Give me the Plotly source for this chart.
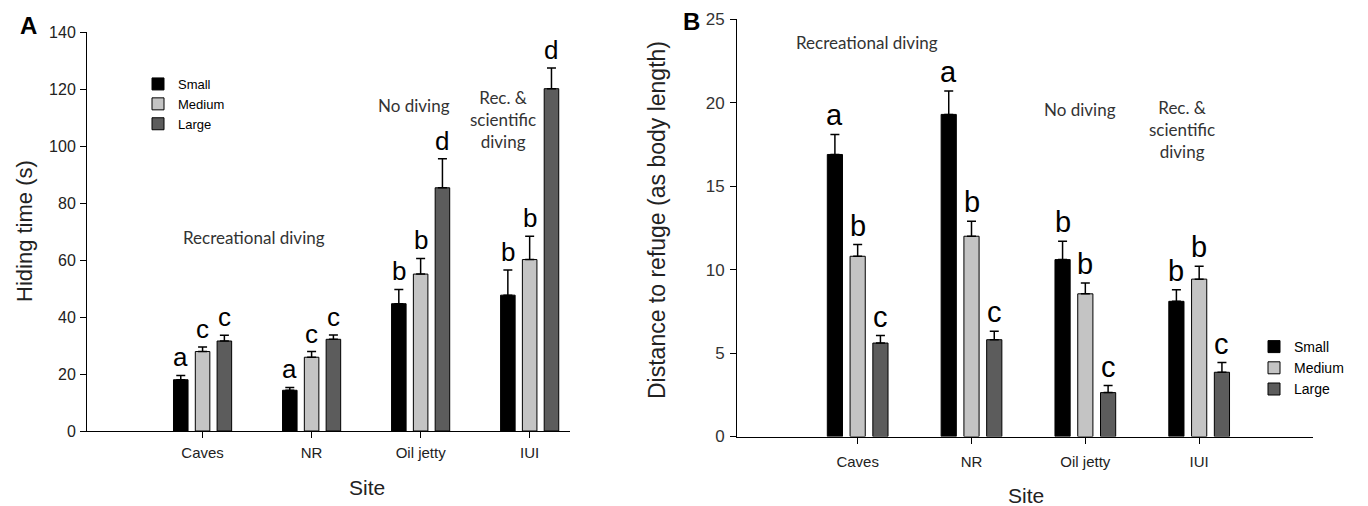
import plotly.graph_objects as go

# ---------------- data ----------------
sites = ["Caves", "NR", "Oil jetty", "IUI"]
size_classes = ["Small", "Medium", "Large"]

# Panel A: hiding time (s)
hide_small = [18.0, 14.3, 44.7, 47.7]
hide_small_err = [1.5, 1.0, 5.0, 8.8]
hide_medium = [27.9, 25.9, 55.1, 60.2]
hide_medium_err = [1.6, 2.0, 5.5, 8.2]
hide_large = [31.6, 32.2, 85.4, 120.2]
hide_large_err = [2.0, 1.5, 10.2, 7.3]
hide_letters_small = ["a", "a", "b", "b"]
hide_letters_medium = ["c", "c", "b", "b"]
hide_letters_large = ["c", "c", "d", "d"]

# Panel B: distance to refuge (body lengths)
dist_small = [16.9, 19.3, 10.6, 8.1]
dist_small_err = [1.2, 1.4, 1.1, 0.7]
dist_medium = [10.8, 12.0, 8.55, 9.43]
dist_medium_err = [0.7, 0.9, 0.65, 0.77]
dist_large = [5.6, 5.8, 2.63, 3.85]
dist_large_err = [0.45, 0.5, 0.42, 0.58]
dist_letters_small = ["a", "a", "b", "b"]
dist_letters_medium = ["b", "b", "b", "b"]
dist_letters_large = ["c", "c", "c", "c"]

colors = ["#000000", "#c4c4c4", "#5c5c5c"]

W, H = 1368, 506
BARGAP = 0.4
BARGROUPGAP = 0.333
slot = (1 - BARGAP) / 3  # group offset between adjacent bars in category units

fig = go.Figure()

panelA = [(hide_small, hide_small_err, hide_letters_small),
          (hide_medium, hide_medium_err, hide_letters_medium),
          (hide_large, hide_large_err, hide_letters_large)]
panelB = [(dist_small, dist_small_err, dist_letters_small),
          (dist_medium, dist_medium_err, dist_letters_medium),
          (dist_large, dist_large_err, dist_letters_large)]

annotations = []

for panel, xa, ya, leg, lfs in [(panelA, "x", "y", "legend", 26), (panelB, "x2", "y2", "legend2", 29)]:
    for k, (vals, errs, letters) in enumerate(panel):
        fig.add_trace(go.Bar(
            x=sites, y=vals, name=size_classes[k],
            marker=dict(color=colors[k], line=dict(color="#000000", width=1)),
            error_y=dict(type="data", array=errs, arrayminus=[0] * len(errs), symmetric=False,
                         color="#000000", thickness=1.5, width=4.5),
            xaxis=xa, yaxis=ya, legend=leg, offsetgroup=str(k), hoverinfo="skip",
        ))
        for i, (v, e, lt) in enumerate(zip(vals, errs, letters)):
            annotations.append(dict(
                x=i + (k - 1) * slot, y=v + e, xref=xa, yref=ya, text=lt, showarrow=False,
                yanchor="bottom", xanchor="center", yshift=1,
                font=dict(family="Liberation Sans, Arial", size=lfs, color="#000000"),
            ))


def px_x(p):
    return p / W


def px_y(p):
    return (H - p) / H


axis_common = dict(showline=True, linecolor="#000000", linewidth=1, ticks="outside",
                   tickcolor="#000000", ticklen=6, showgrid=False, zeroline=False,
                   automargin=False)

fig.update_layout(
    width=W, height=H, autosize=False,
    margin=dict(l=0, r=0, t=0, b=0, pad=0, autoexpand=False),
    paper_bgcolor="white", plot_bgcolor="white",
    barmode="group", bargap=BARGAP, bargroupgap=BARGROUPGAP,
    font=dict(family="Liberation Sans, Arial", color="#222222"),
    xaxis=dict(domain=[px_x(87), px_x(570)], anchor="y", type="category",
               categoryorder="array", categoryarray=sites, range=[-1.06, 3.37],
               tickfont=dict(size=15, color="#222222"), ticklabelstandoff=2, **axis_common),
    yaxis=dict(domain=[px_y(431), px_y(32.3)], anchor="x", range=[0, 140], dtick=20,
               tickfont=dict(size=16, color="#222222"), ticklabelstandoff=1, **axis_common),
    xaxis2=dict(domain=[px_x(737), px_x(1313)], anchor="y2", type="category",
                categoryorder="array", categoryarray=sites, range=[-1.06, 4.0],
                tickfont=dict(size=15, color="#222222"), ticklabelstandoff=5, **axis_common),
    yaxis2=dict(domain=[px_y(436.5), px_y(19.3)], anchor="x2", range=[0, 25], dtick=5,
                tickfont=dict(size=17, color="#333333"), ticklabelstandoff=2, **axis_common),
    legend=dict(x=px_x(138), y=px_y(69), xanchor="left", yanchor="top",
                bgcolor="rgba(0,0,0,0)", font=dict(size=13, color="#000000"),
                traceorder="normal", tracegroupgap=0),
    legend2=dict(x=px_x(1254), y=px_y(331), xanchor="left", yanchor="top",
                 bgcolor="rgba(0,0,0,0)", font=dict(size=14, color="#000000"),
                 traceorder="normal", tracegroupgap=0),
)

note_font = dict(family="Lato, Open Sans", size=17, color="#333333")
title_font = dict(family="Liberation Sans, Arial", size=22, color="#222222")

extra = [
    # panel letters
    dict(x=px_x(28), y=px_y(25), text="<b>A</b>", font=dict(family="Liberation Sans, Arial", size=24, color="#000")),
    dict(x=px_x(691), y=px_y(22), text="<b>B</b>", font=dict(family="Liberation Sans, Arial", size=24, color="#000")),
    # axis titles
    dict(x=px_x(24), y=px_y(231), text="Hiding time (s)", textangle=-90, font=title_font),
    dict(x=px_x(657), y=px_y(220), text="Distance to refuge (as body length)", textangle=-90,
         font=dict(family="Liberation Sans, Arial", size=23, color="#222222")),
    dict(x=px_x(367), y=px_y(487), text="Site", font=dict(family="Liberation Sans, Arial", size=21, color="#222222")),
    dict(x=px_x(1026), y=px_y(495), text="Site", font=dict(family="Liberation Sans, Arial", size=21, color="#222222")),
    # site-use notes, panel A
    dict(x=px_x(254), y=px_y(238), text="Recreational diving", font=note_font),
    dict(x=px_x(414), y=px_y(105), text="No diving", font=note_font),
    dict(x=px_x(503), y=px_y(120), text="Rec. &<br>scientific<br>diving", font=note_font),
    # site-use notes, panel B
    dict(x=px_x(867), y=px_y(43), text="Recreational diving", font=note_font),
    dict(x=px_x(1080), y=px_y(110), text="No diving", font=note_font),
    dict(x=px_x(1182), y=px_y(130), text="Rec. &<br>scientific<br>diving", font=note_font),
]
for a in extra:
    a.update(xref="paper", yref="paper", showarrow=False, xanchor="center", yanchor="middle")
    annotations.append(a)

fig.update_layout(annotations=annotations)

fig.write_html(
    "out.html",
    config={"displayModeBar": False},
    post_script="document.body.style.margin='0';document.body.style.overflow='hidden';",
)
